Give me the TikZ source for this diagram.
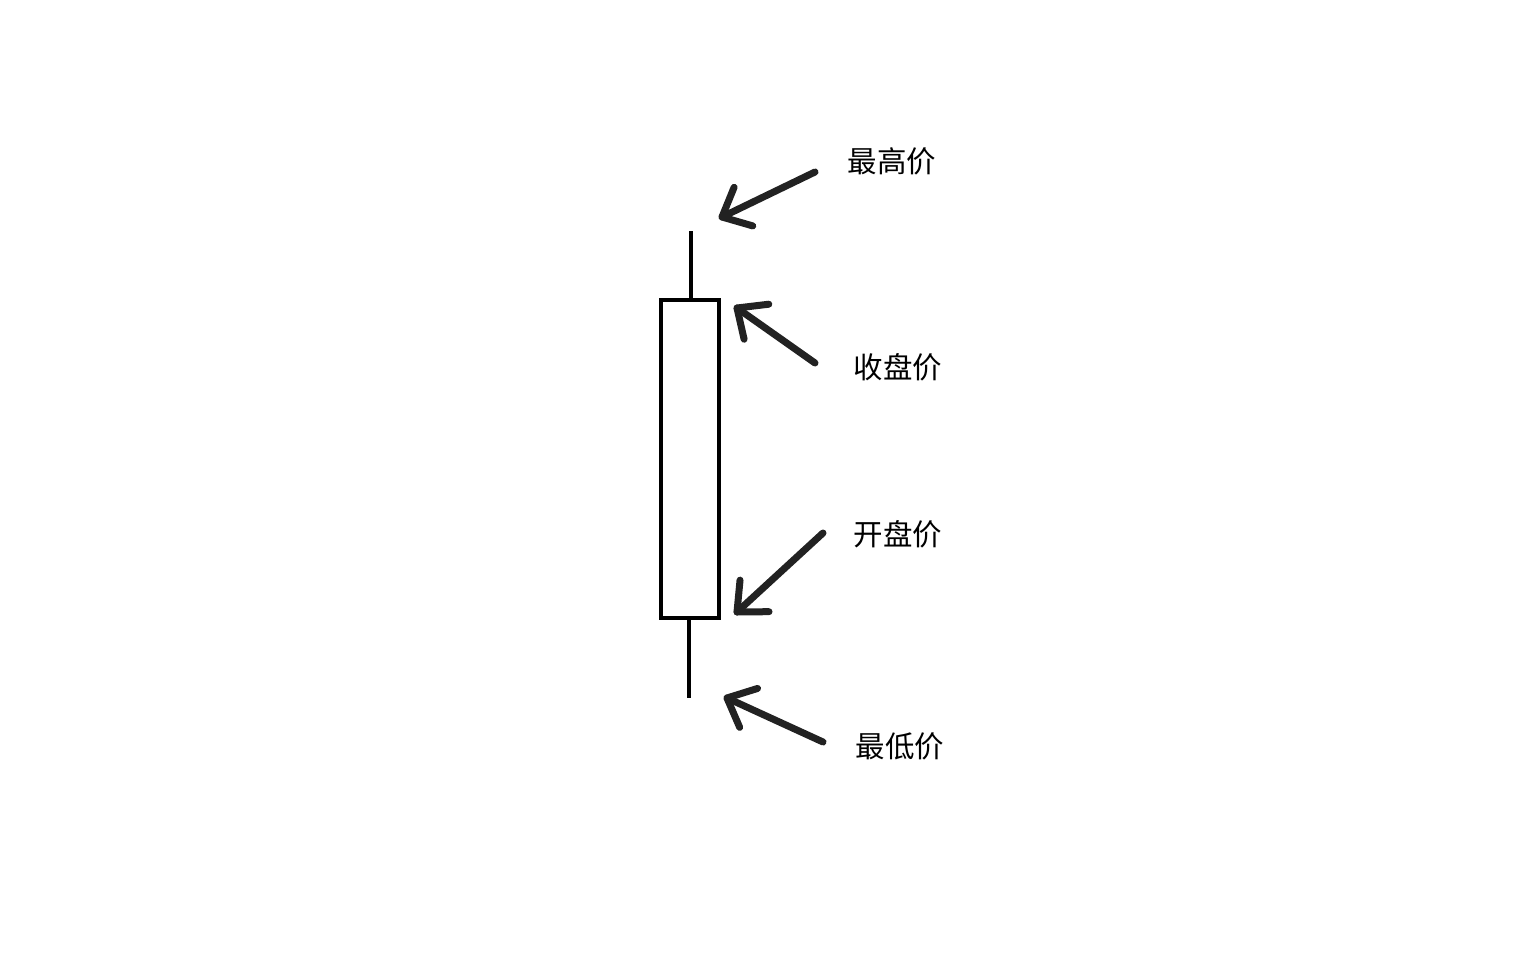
\documentclass[tikz,border=0pt]{standalone}
\usepackage{fontspec}
\newfontfamily\cjk{Noto Sans CJK SC}
\usetikzlibrary{calc}
\definecolor{ink}{HTML}{222222}
\begin{document}
\begin{tikzpicture}[x=1pt,y=-1pt,
  candle/.style={draw=black,line width=4.5pt},
  wick/.style={draw=black,line width=4pt},
  pointer/.style={draw=ink,line width=7pt,line cap=round,line join=round},
  lbl/.style={font=\cjk\fontsize{29.5}{32}\selectfont,text=black,inner sep=0pt}]
\useasboundingbox[fill=white] (0,0) rectangle (1536,960);
% candle body and wicks
\draw[candle] (661,300) rectangle (719,618);
\coordinate (hiTop) at (691,231);
\coordinate (hiBot) at (691,300);
\coordinate (loTop) at (689,620);
\coordinate (loBot) at (689,698);
\draw[wick] (hiTop) -- (hiBot);
\draw[wick] (loTop) -- (loBot);
% labels
\node[lbl] (high)  at (892,161) {最高价};
\node[lbl] (close) at (898,367) {收盘价};
\node[lbl] (open)  at (898,534) {开盘价};
\node[lbl] (low)   at (900,746) {最低价};
% arrow tails and tips
\coordinate (t1) at (815,172); \coordinate (p1) at (722,217);
\coordinate (t2) at (815,363); \coordinate (p2) at (737,308);
\coordinate (t3) at (823,533); \coordinate (p3) at (737,612);
\coordinate (t4) at (823,742); \coordinate (p4) at (727,698);
\foreach \i in {1,2,3,4}{
  \draw[pointer] (t\i) -- (p\i);
  \draw[pointer] ($(p\i)!32pt!42:(t\i)$) -- (p\i) -- ($(p\i)!32pt!-42:(t\i)$);
}
\end{tikzpicture}
\end{document}
